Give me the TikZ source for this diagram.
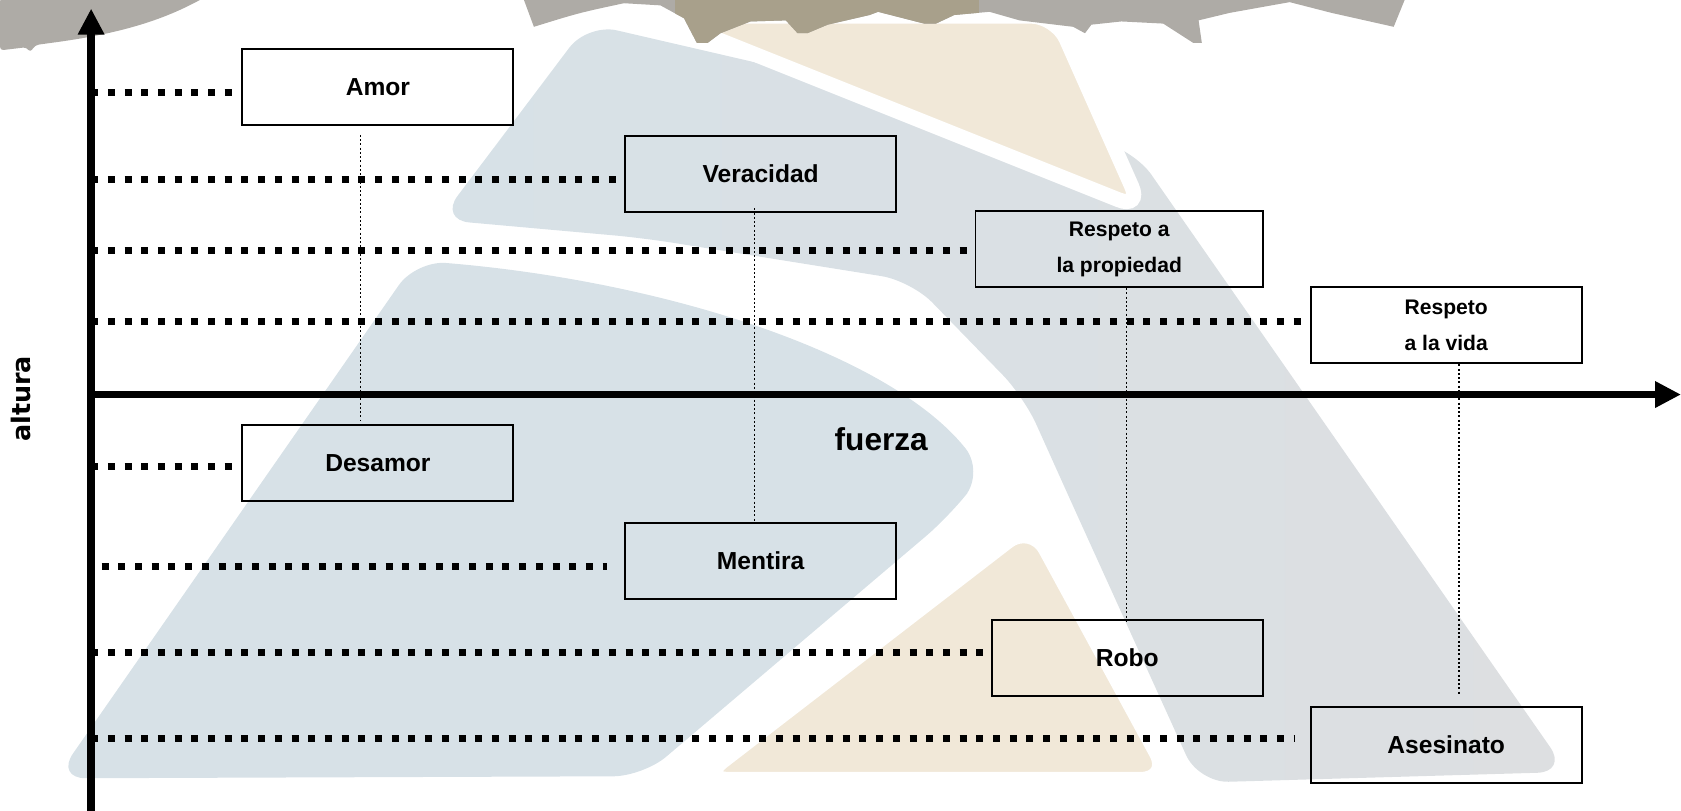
\documentclass[tikz,border=0pt]{standalone}
\usepackage{fontspec}
\setmainfont{Liberation Sans}
\newfontfamily\alturafont{DejaVu Sans}
\usetikzlibrary{arrows.meta}

\definecolor{azulmarca}{RGB}{215,225,231}
\definecolor{grismarca}{RGB}{221,223,225}
\definecolor{ocremarca}{RGB}{241,232,216}
\definecolor{griscorona}{RGB}{174,171,166}
\definecolor{ocrecorona}{RGB}{168,160,139}

\tikzset{
  caja/.style={draw=black, line width=1.1pt, minimum width=5.42cm, minimum height=1.52cm,
    inner sep=0pt, align=center, font=\bfseries\fontsize{14}{16}\selectfont},
  caja doble/.style={caja, font=\bfseries\fontsize{12}{20.7}\selectfont},
  puntos/.style={line width=0.14cm, dash pattern=on 0.14cm off 0.194cm},
  enlace/.style={line width=0.8pt, dash pattern=on 0.04cm off 0.045cm},
  eje/.style={line width=0.15cm, -{Triangle[width=0.5cm,length=0.52cm]}},
}

\begin{document}
\begin{tikzpicture}[x=0.02144cm, y=-0.02144cm]
  \useasboundingbox (0,0) rectangle (1568,756);

  % marca de agua
  \begin{scope}
    \clip (0,0) rectangle (1568,756);
    \shade[left color=azulmarca, right color=grismarca, rounded corners=0.6cm]
      (548,22) -- (1058,140) -- (1462,720) -- (1118,730) -- (1000,470) -- (955,370)
      -- (850,262) -- (600,222) -- (410,205) -- cycle;
    \fill[azulmarca, rounded corners=0.6cm]
      (388,243) .. controls (620,262) and (830,330) .. (918,440) -- (885,482)
      -- (600,724) -- (52,726) -- cycle;
    \filldraw[fill=ocremarca, draw=white, line width=0.3cm, rounded corners=0.6cm]
      (962,488) -- (1092,727) -- (652,727) -- cycle;
    \filldraw[fill=ocremarca, draw=white, line width=0.3cm, rounded corners=0.5cm]
      (615,15) -- (985,15) -- (1065,195) -- cycle;
    % corona
    \fill[griscorona, rounded corners=2pt] (0,-2) -- (190,-2) .. controls (150,20) and (110,31) .. (55,39)
      -- (33,42) -- (28,49) -- (25,44) -- (0,47) -- cycle;
    \begin{scope}
      \clip (488,-2) -- (498,25) .. controls (540,12) .. (582,3) -- (616,5) -- (638,17)
        -- (650,40) -- (660,40) -- (672,31) -- (700,20) -- (733,19) -- (744,31) -- (753,31)
        -- (772,23) -- (811,14) -- (819,11) -- (862,22) -- (873,22) -- (890,14) -- (923,11)
        -- (951,19) -- (1001,25) -- (1012,31) -- (1018,23) -- (1046,20) -- (1085,22)
        -- (1113,40) -- (1121,40) -- (1118,19) -- (1147,12) -- (1186,5) -- (1203,2)
        -- (1242,12) -- (1300,25) -- (1311,-2) -- cycle;
      \fill[griscorona] (480,-5) rectangle (1320,50);
      \fill[ocrecorona] (630,-5) rectangle (913,50);
    \end{scope}
  \end{scope}

  % ejes
  \coordinate (origen) at (85,368);
  \coordinate (ybase) at (85,756);
  \coordinate (ytope) at (85,8);
  \coordinate (xfin) at (1568,368);

  % cajas
  \node[caja] (amor) at (352.5,81.5) {Amor};
  \node[caja] (veracidad) at (709.5,162) {Veracidad};
  \node[caja doble, minimum width=5.75cm] (propiedad) at (1044,232.5) {Respeto a\\la propiedad};
  \node[caja doble] (vida) at (1349,303.5) {Respeto\\a la vida};
  \node[caja] (desamor) at (352.5,432) {Desamor};
  \node[caja] (mentira) at (709.5,523) {Mentira};
  \node[caja] (robo) at (1051.5,613.5) {Robo};
  \node[caja] (asesinato) at (1349,694.5) {Asesinato};

  % lineas de nivel
  \draw[puntos] (origen |- 0,86) -- (amor.west |- 0,86);
  \draw[puntos] (origen |- 0,167) -- (veracidad.west |- 0,167);
  \draw[puntos] (origen |- 0,234) -- (propiedad.west |- 0,234);
  \draw[puntos] (origen |- 0,300) -- (vida.west |- 0,300);
  \draw[puntos] (origen |- 0,435) -- (desamor.west |- 0,435);
  \draw[puntos, shorten <=0.21cm, shorten >=0.34cm] (origen |- 0,528) -- (mentira.west |- 0,528);
  \draw[puntos, shorten >=0.15cm] (origen |- 0,609) -- (robo.west |- 0,609);
  \draw[puntos, shorten >=0.3cm] (origen |- 0,689) -- (asesinato.west |- 0,689);

  % enlaces verticales
  \draw[enlace] ([shift={(-16.5,8)}]amor.south) -- ([shift={(-16.5,-4)}]desamor.north);
  \draw[enlace] ([shift={(-5.5,-4)}]veracidad.south) -- ([shift={(-5.5,-1)}]mentira.north);
  \draw[enlace] ([shift={(7,0)}]propiedad.south) -- ([shift={(-0.5,4)}]robo.north);
  \draw[enlace] ([shift={(12,0)}]vida.south) -- ([shift={(12,-10)}]asesinato.north);

  \draw[eje] (ybase) -- (ytope);
  \draw[eje] (origen) -- (xfin);

  \node[font=\bfseries\fontsize{18}{20}\selectfont] (fuerza) at (822,410) {fuerza};
  \node[rotate=90, font=\alturafont\bfseries\fontsize{14.5}{16}\selectfont] (altura) at (20,372) {altura};
\end{tikzpicture}
\end{document}
